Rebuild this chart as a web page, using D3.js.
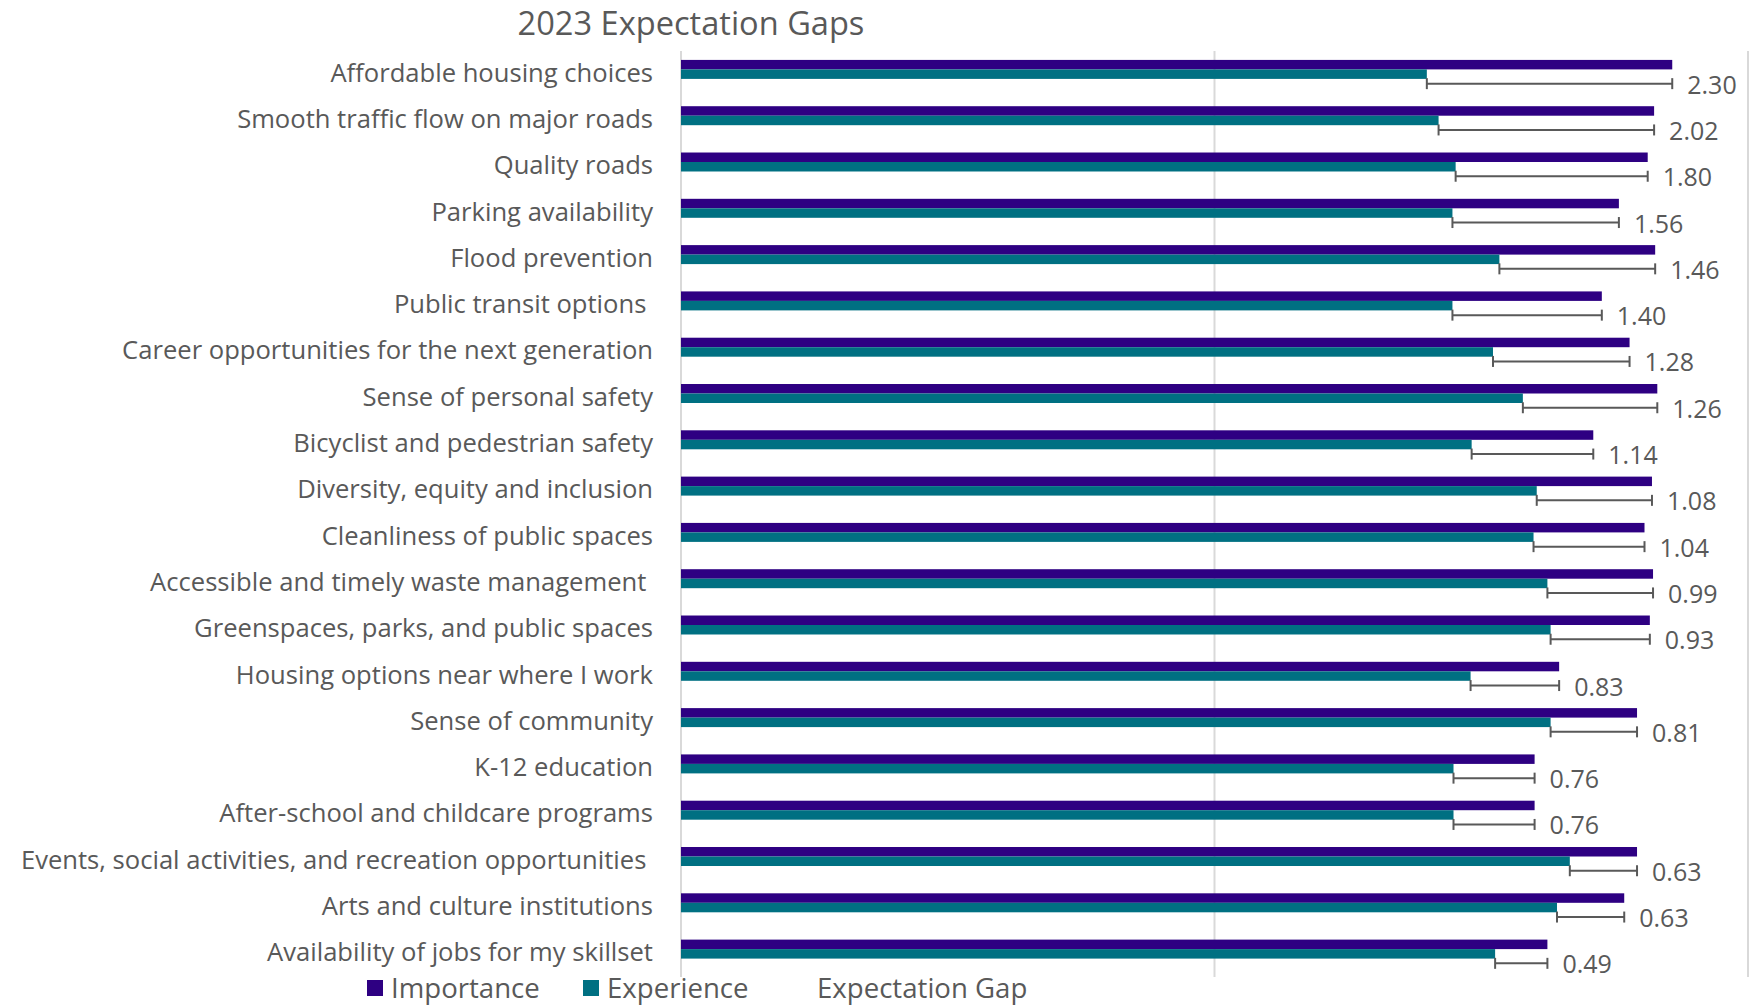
<!DOCTYPE html>
<html>
<head>
<meta charset="utf-8">
<script src="https://cdn.jsdelivr.net/npm/d3@7"></script>
<style>
  body { margin: 0; background: #fff; }
  text { font-family: "Open Sans", sans-serif; fill: #595959; white-space: pre; }
</style>
</head>
<body>
<svg></svg>
<script>
const width = 1760;
const height = 1006;

const categories = [
  'Affordable housing choices',
  'Smooth traffic flow on major roads',
  'Quality roads',
  'Parking availability',
  'Flood prevention',
  'Public transit options ',
  'Career opportunities for the next generation',
  'Sense of personal safety',
  'Bicyclist and pedestrian safety',
  'Diversity, equity and inclusion',
  'Cleanliness of public spaces',
  'Accessible and timely waste management ',
  'Greenspaces, parks, and public spaces',
  'Housing options near where I work',
  'Sense of community',
  'K-12 education',
  'After-school and childcare programs',
  'Events, social activities, and recreation opportunities ',
  'Arts and culture institutions',
  'Availability of jobs for my skillset'
];
const importance = [9.29, 9.12, 9.06, 8.79, 9.13, 8.63, 8.89, 9.15, 8.55, 9.10,
  9.03, 9.11, 9.08, 8.23, 8.96, 8.00, 8.00, 8.96, 8.84, 8.12];
const experience = [6.99, 7.10, 7.26, 7.23, 7.67, 7.23, 7.61, 7.89, 7.41, 8.02,
  7.99, 8.12, 8.15, 7.40, 8.15, 7.24, 7.24, 8.33, 8.21, 7.63];
const gaps = [2.30, 2.02, 1.80, 1.56, 1.46, 1.40, 1.28, 1.26, 1.14, 1.08,
  1.04, 0.99, 0.93, 0.83, 0.81, 0.76, 0.76, 0.63, 0.63, 0.49];
const seriesNames = ['Importance', 'Experience', 'Expectation Gap'];
const colors = ['#2e0082', '#007082', 'none'];
const gridTicks = [0, 5, 10];

const svg = d3.select('svg')
  .attr('width', width)
  .attr('height', height);

const x = d3.scaleLinear()
  .domain([0, 10])
  .range([681, 1748]);

const y = d3.scaleBand()
  .domain(categories)
  .range([51, 977])
  .paddingInner(0.385)
  .paddingOuter(0.1925);

const inner = d3.scaleBand()
  .domain(seriesNames)
  .range([0, y.bandwidth()]);

// gridlines
svg.append('g')
  .selectAll('line')
  .data(gridTicks)
  .join('line')
  .attr('x1', d => x(d))
  .attr('x2', d => x(d))
  .attr('y1', 51)
  .attr('y2', 977)
  .attr('stroke', '#d9d9d9')
  .attr('stroke-width', 2);

const rows = categories.map((c, i) => ({
  cat: c, imp: importance[i], exp: experience[i], gap: gaps[i]
}));

const row = svg.append('g')
  .selectAll('g')
  .data(rows)
  .join('g')
  .attr('transform', d => `translate(0, ${y(d.cat)})`);

row.append('rect')
  .attr('x', x(0))
  .attr('y', inner('Importance'))
  .attr('width', d => x(d.imp) - x(0))
  .attr('height', inner.bandwidth())
  .attr('fill', colors[0]);

row.append('rect')
  .attr('x', x(0))
  .attr('y', inner('Experience'))
  .attr('width', d => x(d.exp) - x(0))
  .attr('height', inner.bandwidth())
  .attr('fill', colors[1]);

// expectation gap error bars
const gapY = inner('Expectation Gap') + inner.bandwidth() / 2;
const capH = 5.5;

row.append('line')
  .attr('x1', d => x(d.exp))
  .attr('x2', d => x(d.imp))
  .attr('y1', gapY)
  .attr('y2', gapY)
  .attr('stroke', '#595959')
  .attr('stroke-width', 2);

row.append('line')
  .attr('x1', d => x(d.exp))
  .attr('x2', d => x(d.exp))
  .attr('y1', gapY - capH)
  .attr('y2', gapY + capH)
  .attr('stroke', '#595959')
  .attr('stroke-width', 2);

row.append('line')
  .attr('x1', d => x(d.imp))
  .attr('x2', d => x(d.imp))
  .attr('y1', gapY - capH)
  .attr('y2', gapY + capH)
  .attr('stroke', '#595959')
  .attr('stroke-width', 2);

row.append('text')
  .attr('x', d => x(d.imp) + 15)
  .attr('y', gapY)
  .attr('dominant-baseline', 'central')
  .style('font-size', '25px')
  .text(d => d.gap.toFixed(2));

// category labels
row.append('text')
  .attr('x', x(0) - 28)
  .attr('y', y.bandwidth() / 2 - 2)
  .attr('text-anchor', 'end')
  .attr('dominant-baseline', 'central')
  .style('font-size', '25.6px')
  .text(d => d.cat);

// title
svg.append('text')
  .attr('x', 691)
  .attr('y', 22)
  .attr('text-anchor', 'middle')
  .attr('dominant-baseline', 'central')
  .style('font-size', '32.6px')
  .text('2023 Expectation Gaps');

// legend
const legendX = [367, 583, 793];
const legend = svg.append('g')
  .selectAll('g')
  .data(seriesNames)
  .join('g')
  .attr('transform', (d, i) => `translate(${legendX[i]}, 987)`);

legend.append('rect')
  .attr('x', 0)
  .attr('y', -7)
  .attr('width', 16)
  .attr('height', 16)
  .attr('fill', (d, i) => colors[i]);

legend.append('text')
  .attr('x', 24)
  .attr('y', 0)
  .attr('dominant-baseline', 'central')
  .style('font-size', '27.6px')
  .text(d => d);
</script>
</body>
</html>
